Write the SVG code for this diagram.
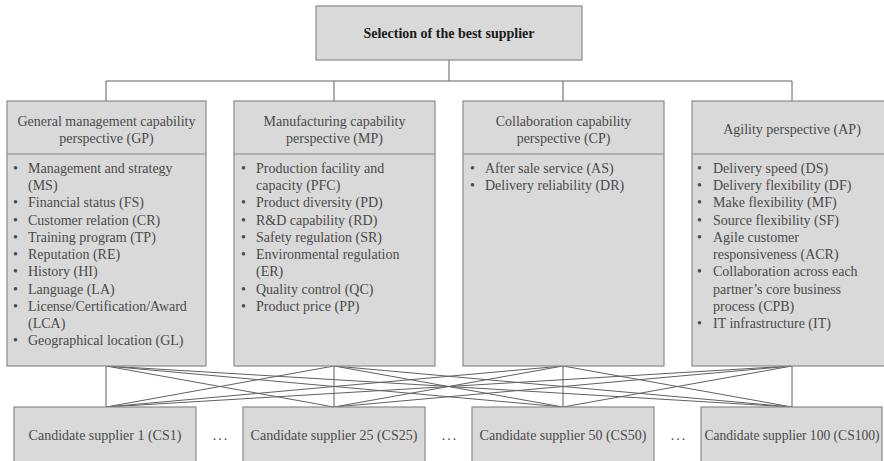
<svg xmlns="http://www.w3.org/2000/svg" width="884" height="461" viewBox="0 0 884 461">
<style>
.box{fill:#d9d9d9;stroke:#8a8a8a;stroke-width:1.2}
.div{stroke:#8a8a8a;stroke-width:1.2}
.t{font-family:"Liberation Serif","Times New Roman",serif;font-size:14px;fill:#4a4a4a}
.c{text-anchor:middle}
.title{font-family:"Liberation Serif","Times New Roman",serif;font-size:14px;font-weight:bold;fill:#1a1a1a;text-anchor:middle}
.ln{stroke:#606060;stroke-width:1;fill:none}
.dots{font-family:"Liberation Serif","Times New Roman",serif;font-size:14px;fill:#4a4a4a;text-anchor:middle;letter-spacing:2px}
</style>
<rect width="884" height="461" fill="#ffffff"/>
<g id="connectors">
<path class="ln" d="M449 60V81M106 81H792M106 81V101M334 81V101M563 81V101M792 81V101"/>
<path class="ln" d="M106 366L106 407M106 366L334 407M106 366L563 407M106 366L792 407"/>
<path class="ln" d="M334 366L106 407M334 366L334 407M334 366L563 407M334 366L792 407"/>
<path class="ln" d="M563 366L106 407M563 366L334 407M563 366L563 407M563 366L792 407"/>
<path class="ln" d="M792 366L106 407M792 366L334 407M792 366L563 407M792 366L792 407"/>
</g>
<g id="goal">
<rect class="box" x="316" y="6" width="266" height="54"/>
<text class="title" x="449" y="38">Selection of the best supplier</text>
</g>
<g id="gp">
<rect class="box" x="7" y="101" width="199" height="265"/>
<line class="div" x1="7" y1="154" x2="206" y2="154"/>
<text class="t c" x="106.5" y="126">General management capability</text>
<text class="t c" x="106.5" y="143">perspective (GP)</text>
<text class="t">
<tspan x="13" y="172.7">•</tspan><tspan x="28" y="172.7">Management and strategy</tspan>
<tspan x="28" y="190">(MS)</tspan>
<tspan x="13" y="207.2">•</tspan><tspan x="28" y="207.2">Financial status (FS)</tspan>
<tspan x="13" y="224.5">•</tspan><tspan x="28" y="224.5">Customer relation (CR)</tspan>
<tspan x="13" y="241.7">•</tspan><tspan x="28" y="241.7">Training program (TP)</tspan>
<tspan x="13" y="259">•</tspan><tspan x="28" y="259">Reputation (RE)</tspan>
<tspan x="13" y="276.2">•</tspan><tspan x="28" y="276.2">History (HI)</tspan>
<tspan x="13" y="293.5">•</tspan><tspan x="28" y="293.5">Language (LA)</tspan>
<tspan x="13" y="310.7">•</tspan><tspan x="28" y="310.7">License/Certification/Award</tspan>
<tspan x="28" y="328">(LCA)</tspan>
<tspan x="13" y="345.2">•</tspan><tspan x="28" y="345.2">Geographical location (GL)</tspan>
</text>
</g>
<g id="mp">
<rect class="box" x="234" y="101" width="201" height="265"/>
<line class="div" x1="234" y1="154" x2="435" y2="154"/>
<text class="t c" x="334.5" y="126">Manufacturing capability</text>
<text class="t c" x="334.5" y="143">perspective (MP)</text>
<text class="t">
<tspan x="241" y="172.7">•</tspan><tspan x="256" y="172.7">Production facility and</tspan>
<tspan x="256" y="190">capacity (PFC)</tspan>
<tspan x="241" y="207.2">•</tspan><tspan x="256" y="207.2">Product diversity (PD)</tspan>
<tspan x="241" y="224.5">•</tspan><tspan x="256" y="224.5">R&amp;D capability (RD)</tspan>
<tspan x="241" y="241.7">•</tspan><tspan x="256" y="241.7">Safety regulation (SR)</tspan>
<tspan x="241" y="259">•</tspan><tspan x="256" y="259">Environmental regulation</tspan>
<tspan x="256" y="276.2">(ER)</tspan>
<tspan x="241" y="293.5">•</tspan><tspan x="256" y="293.5">Quality control (QC)</tspan>
<tspan x="241" y="310.7">•</tspan><tspan x="256" y="310.7">Product price (PP)</tspan>
</text>
</g>
<g id="cp">
<rect class="box" x="463" y="101" width="201" height="265"/>
<line class="div" x1="463" y1="154" x2="664" y2="154"/>
<text class="t c" x="563.5" y="126">Collaboration capability</text>
<text class="t c" x="563.5" y="143">perspective (CP)</text>
<text class="t">
<tspan x="470" y="172.7">•</tspan><tspan x="485" y="172.7">After sale service (AS)</tspan>
<tspan x="470" y="190">•</tspan><tspan x="485" y="190">Delivery reliability (DR)</tspan>
</text>
</g>
<g id="ap">
<rect class="box" x="692" y="101" width="200" height="265"/>
<line class="div" x1="692" y1="154" x2="892" y2="154"/>
<text class="t c" x="792" y="134">Agility perspective (AP)</text>
<text class="t">
<tspan x="697" y="172.7">•</tspan><tspan x="713" y="172.7">Delivery speed (DS)</tspan>
<tspan x="697" y="190">•</tspan><tspan x="713" y="190">Delivery flexibility (DF)</tspan>
<tspan x="697" y="207.2">•</tspan><tspan x="713" y="207.2">Make flexibility (MF)</tspan>
<tspan x="697" y="224.5">•</tspan><tspan x="713" y="224.5">Source flexibility (SF)</tspan>
<tspan x="697" y="241.7">•</tspan><tspan x="713" y="241.7">Agile customer</tspan>
<tspan x="713" y="259">responsiveness (ACR)</tspan>
<tspan x="697" y="276.2">•</tspan><tspan x="713" y="276.2">Collaboration across each</tspan>
<tspan x="713" y="293.5">partner’s core business</tspan>
<tspan x="713" y="310.7">process (CPB)</tspan>
<tspan x="697" y="328">•</tspan><tspan x="713" y="328">IT infrastructure (IT)</tspan>
</text>
</g>
<g id="cs1">
<rect class="box" x="14" y="407" width="182" height="70"/>
<text class="t c" x="105" y="440">Candidate supplier 1 (CS1)</text>
</g>
<g id="cs25">
<rect class="box" x="243" y="407" width="182" height="70"/>
<text class="t c" x="334" y="440">Candidate supplier 25 (CS25)</text>
</g>
<g id="cs50">
<rect class="box" x="472" y="407" width="182" height="70"/>
<text class="t c" x="563" y="440">Candidate supplier 50 (CS50)</text>
</g>
<g id="cs100">
<rect class="box" x="701" y="407" width="181" height="70"/>
<text class="t c" x="792" y="440" textLength="175" lengthAdjust="spacingAndGlyphs">Candidate supplier 100 (CS100)</text>
</g>
<g id="ellipses">
<text class="dots" x="221" y="440">...</text>
<text class="dots" x="450" y="440">...</text>
<text class="dots" x="679" y="440">...</text>
</g>
</svg>
